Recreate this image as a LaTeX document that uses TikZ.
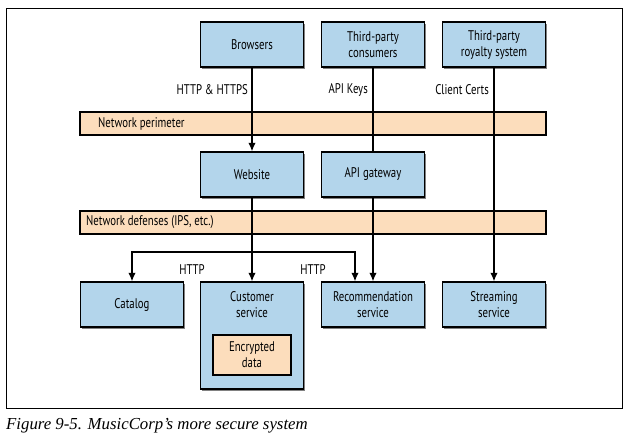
\documentclass[tikz,border=0pt]{standalone}
\usepackage{fontspec}
\newfontfamily\boxfont{PT Sans}[FakeStretch=0.77]
\newfontfamily\capfont{Liberation Serif}
\usetikzlibrary{shapes,arrows.meta,positioning,calc,shadows}

\definecolor{svcblue}{HTML}{B3D5EB}
\definecolor{barorange}{HTML}{FCDDBC}

\begin{document}
\begin{tikzpicture}[
    x=1pt, y=-1pt,
    every node/.style={font=\boxfont\fontsize{14}{16}\selectfont},
    svc/.style={rectangle, draw, line width=1.4pt, fill=svcblue, minimum width=103pt, minimum height=45pt, align=center, inner sep=2pt,
        drop shadow={shadow xshift=1.6pt, shadow yshift=-1.6pt, fill=black!70, opacity=0.7}},
    bar/.style={rectangle, draw, line width=1.2pt, fill=barorange, minimum width=466pt, minimum height=23pt},
    link/.style={draw, line width=1.3pt},
    flow/.style={link, -{Latex[length=8.5pt,width=7.5pt]}},
    lbl/.style={anchor=east, inner sep=0pt}
]

\useasboundingbox (0,0) rectangle (630,442);
\draw[line width=0.8pt] (6,8) rectangle (622,408);

% zones
\node[bar] (perim) at (313,123.5) {};
\node[anchor=west, inner sep=0pt] (perimtxt) at (98,123.5) {Network perimeter};
\node[bar] (defense) at (313,222.5) {};
\node[anchor=west, inner sep=0pt] (defensetxt) at (86,222.5) {Network defenses (IPS, etc.)};

% outside
\node[svc] (browsers) at (252,44.5) {Browsers};
\node[svc] (consumers) at (373,44.5) {Third-party\\consumers};
\node[svc] (royalty) at (494,44.5) {Third-party\\royalty system};

% edge
\node[svc] (website) at (252,174.5) {Website};
\node[svc] (gateway) at (373,174.5) {API gateway};

% services
\node[svc] (catalog) at (132,304.5) {Catalog};
\node[svc, minimum height=107pt] (customer) at (252,335.5) {};
\node[inner sep=0pt, align=center] (customertxt) at (252,304.5) {Customer\\service};
\node[rectangle, draw, line width=1.4pt, fill=barorange, minimum width=78pt, minimum height=40pt, align=center, inner sep=2pt] (crypt) at (252,355) {Encrypted\\data};
\node[svc] (recommend) at (373,304.5) {Recommendation\\service};
\node[svc] (streaming) at (494,304.5) {Streaming\\service};

% connectors
\draw[flow] (browsers) -- (website);
\draw[link] (consumers) -- (gateway);
\draw[flow] (royalty) -- (streaming);
\draw[flow] (website) -- (customer);
\draw[flow] (gateway) -- (recommend);
\coordinate (split) at (252,252);
\draw[flow] (split) -| (catalog.north);
\draw[flow] (split) -| ([xshift=-18pt]recommend.north);

\node[lbl] (httpsl) at (248,90) {HTTP \& HTTPS};
\node[lbl] (keysl) at (368,90) {API Keys};
\node[lbl] (certsl) at (489,90) {Client Certs};
\node[inner sep=0pt] (httpa) at (192,270) {HTTP};
\node[inner sep=0pt] (httpb) at (313,270) {HTTP};

\node[anchor=base west, inner sep=0pt, font=\capfont\itshape\fontsize{16.8}{19}\selectfont] (caption) at (6,429) {Figure 9-5. MusicCorp’s more secure system};

\end{tikzpicture}
\end{document}
